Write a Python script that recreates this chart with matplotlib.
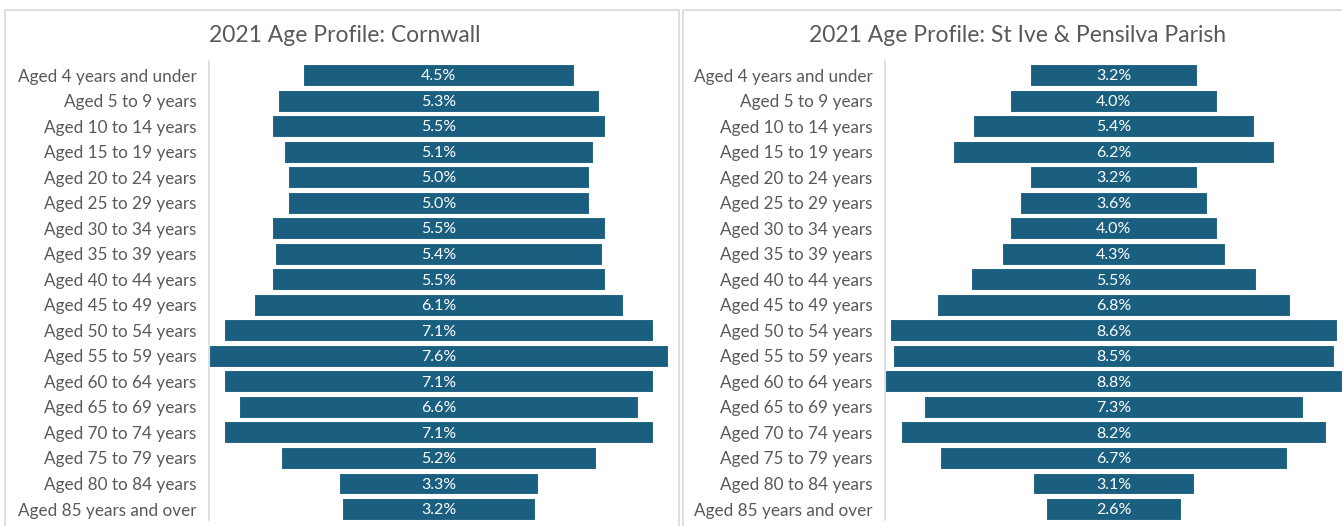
import matplotlib.pyplot as plt
from matplotlib.patches import Rectangle

# -------------------------
# Data (percent of population)
# -------------------------
age_bands = [
    "Aged 4 years and under", "Aged 5 to 9 years", "Aged 10 to 14 years",
    "Aged 15 to 19 years", "Aged 20 to 24 years", "Aged 25 to 29 years",
    "Aged 30 to 34 years", "Aged 35 to 39 years", "Aged 40 to 44 years",
    "Aged 45 to 49 years", "Aged 50 to 54 years", "Aged 55 to 59 years",
    "Aged 60 to 64 years", "Aged 65 to 69 years", "Aged 70 to 74 years",
    "Aged 75 to 79 years", "Aged 80 to 84 years", "Aged 85 years and over",
]
cornwall = [4.5, 5.3, 5.5, 5.1, 5.0, 5.0, 5.5, 5.4, 5.5, 6.1,
            7.1, 7.6, 7.1, 6.6, 7.1, 5.2, 3.3, 3.2]
parish = [3.2, 4.0, 5.4, 6.2, 3.2, 3.6, 4.0, 4.3, 5.5, 6.8,
          8.6, 8.5, 8.8, 7.3, 8.2, 6.7, 3.1, 2.6]
titles = ["2021 Age Profile: Cornwall", "2021 Age Profile: St Ive & Pensilva Parish"]

BAR = "#1a5f80"
GREY_TXT = "#595959"
BORDER = "#d9d9d9"

plt.rcParams['font.family'] = ['Lato', 'DejaVu Sans']

W, H = 1342, 526
fig = plt.figure(figsize=(W / 100, H / 100), dpi=100)

# panel frames (pixel coords -> figure fraction)
for x0, x1 in [(5, 679), (683, 1345)]:
    fig.patches.append(Rectangle((x0 / W, -0.02), (x1 - x0) / W, (H - 10) / H + 0.02,
                                 transform=fig.transFigure, fill=False,
                                 edgecolor=BORDER, linewidth=1.2))

panels = [
    (cornwall, (209, 668), 3.8, 345),
    (parish, (885, 1342), 4.4, 1018),
]

for (vals, (px0, px1), half, tx), title in zip(panels, titles):
    ax = fig.add_axes([px0 / W, 6 / H, (px1 - px0) / W, 459 / H])
    y = range(len(age_bands))
    lefts = [-v / 2 for v in vals]
    ax.barh(y, vals, left=lefts, height=0.86, color=BAR,
            edgecolor="white", linewidth=0.8)
    for yi, v in zip(y, vals):
        ax.text(0, yi + 0.05, f"{v:.1f}%", ha="center", va="center",
                color="white", fontsize=11.5)
    ax.set_xlim(-half, half)
    ax.set_ylim(17.43, -0.55)
    ax.set_yticks(list(y))
    ax.set_yticklabels(age_bands, fontsize=12.3, color=GREY_TXT)
    ax.tick_params(axis="y", length=0, pad=9)
    ax.set_xticks([])
    for s in ["top", "right", "bottom"]:
        ax.spines[s].set_visible(False)
    ax.spines["left"].set_color(BORDER)
    ax.spines["left"].set_linewidth(1.2)
    ax.patch.set_alpha(0)
    fig.text(tx / W, 1 - 35 / H, title, ha="center", va="center",
             fontsize=16.5, color=GREY_TXT)

fig.savefig("out.png", dpi=100)
